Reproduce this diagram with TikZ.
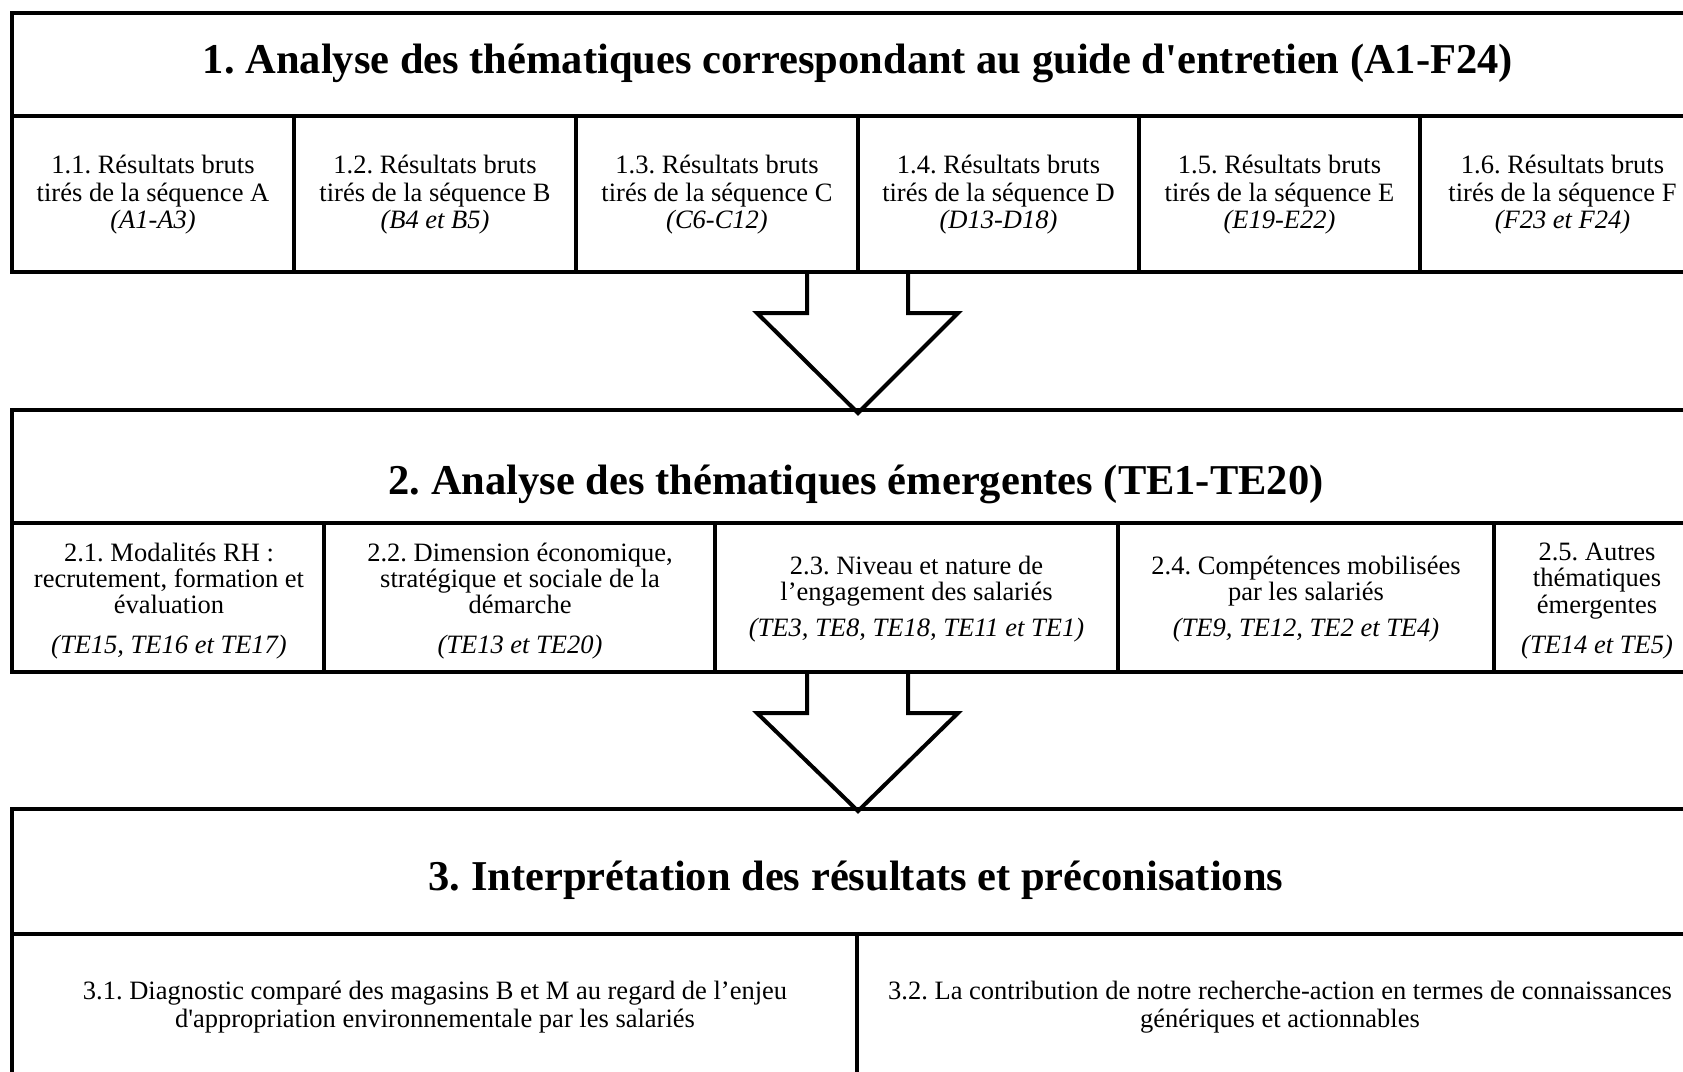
\documentclass[tikz,border=0pt]{standalone}
\usepackage{fontspec}
\setmainfont{Liberation Serif}
\frenchspacing
\begin{document}
\begin{tikzpicture}[x=1pt,y=-1pt,
  frame/.style={line width=4.5pt},
  rule/.style={line width=3.5pt},
  divider/.style={line width=4pt},
  blockarrow/.style={line width=4pt, line join=miter, fill=white},
  title/.style={font=\fontsize{42.5}{48}\selectfont\bfseries},
  cell/.style={align=center, font=\fontsize{26.5}{27.5}\selectfont},
  cellb/.style={align=center, font=\fontsize{26.5}{26.2}\selectfont},
]
\useasboundingbox (0,0) rectangle (1683,1071);
\clip (0,0) rectangle (1683,1071);

% block arrows between the three stages
\draw[blockarrow] (807,272) -- (807,313) -- (757,313) -- (858,413)
  -- (958,313) -- (908,313) -- (908,272);
\draw[blockarrow] (807,672) -- (807,713) -- (757,713) -- (858,811)
  -- (958,713) -- (908,713) -- (908,672);

% stage 1
\draw[frame] (12,13) rectangle (1705,272);
\draw[rule] (12,116) -- (1705,116);
\foreach \x in {294,576,858,1139,1420} \draw[divider] (\x,116) -- (\x,272);
\node[title] (t1) at (858,63) {1. Analyse des thématiques correspondant au guide d\textquotesingle entretien (A1-F24)};
\node[cell] (c11) at (153,195) {1.1. Résultats bruts\\tirés de la séquence A\\\textit{(A1-A3)}};
\node[cell] (c12) at (435,195) {1.2. Résultats bruts\\tirés de la séquence B\\\textit{(B4 et B5)}};
\node[cell] (c13) at (717,195) {1.3. Résultats bruts\\tirés de la séquence C\\\textit{(C6-C12)}};
\node[cell] (c14) at (998.5,195) {1.4. Résultats bruts\\tirés de la séquence D\\\textit{(D13-D18)}};
\node[cell] (c15) at (1279.5,195) {1.5. Résultats bruts\\tirés de la séquence E\\\textit{(E19-E22)}};
\node[cell] (c16) at (1562.5,195) {1.6. Résultats bruts\\tirés de la séquence F\\\textit{(F23 et F24)}};

% stage 2
\draw[frame] (12,410) rectangle (1705,672);
\draw[rule] (12,523) -- (1705,523);
\foreach \x in {324,715,1118,1494} \draw[divider] (\x,523) -- (\x,672);
\node[title] (t2) at (856,484) {2. Analyse des thématiques émergentes (TE1-TE20)};
\node[cellb] (c21) at (169,601) {2.1. Modalités RH :\\recrutement, formation et\\évaluation\\[14pt]\textit{(TE15, TE16 et TE17)}};
\node[cellb] (c22) at (520,601) {2.2. Dimension économique,\\stratégique et sociale de la\\démarche\\[14pt]\textit{(TE13 et TE20)}};
\node[cellb] (c23) at (916.5,599) {2.3. Niveau et nature de\\l’engagement des salariés\\[10pt]\textit{(TE3, TE8, TE18, TE11 et TE1)}};
\node[cellb] (c24) at (1306,599) {2.4. Compétences mobilisées\\par les salariés\\[10pt]\textit{(TE9, TE12, TE2 et TE4)}};
\node[cellb] (c25) at (1597,601) {2.5. Autres\\thématiques\\émergentes\\[14pt]\textit{(TE14 et TE5)}};

% stage 3
\draw[frame] (12,809) rectangle (1705,1075);
\draw[rule] (12,934) -- (1705,934);
\draw[divider] (857,934) -- (857,1075);
\node[title] (t3) at (856,880) {3. Interprétation des résultats et préconisations};
\node[cell] (c31) at (435,1007) {3.1. Diagnostic comparé des magasins B et M au regard de l’enjeu\\d\textquotesingle appropriation environnementale par les salariés};
\node[cell] (c32) at (1280,1007) {3.2. La contribution de notre recherche-action en termes de connaissances\\génériques et actionnables};
\end{tikzpicture}
\end{document}
